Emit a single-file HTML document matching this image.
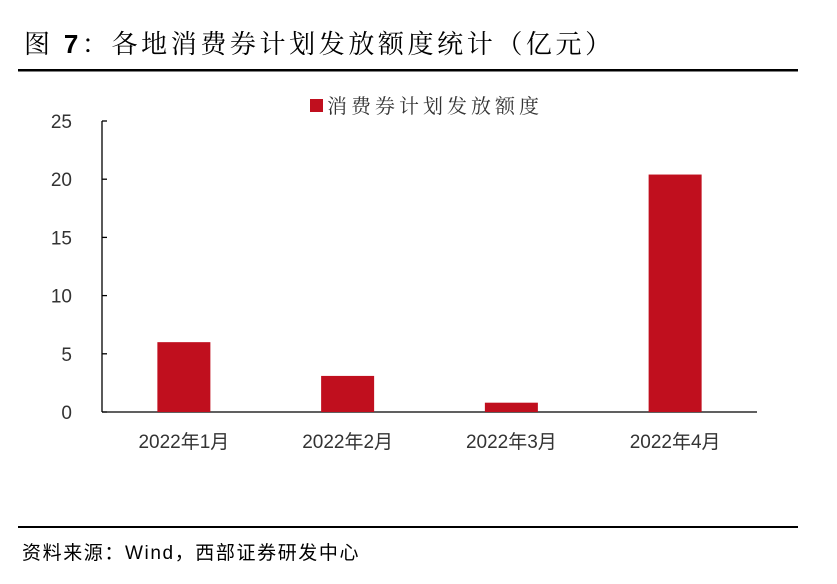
<!DOCTYPE html>
<html><head><meta charset="utf-8"><style>
body{margin:0;background:#fff;width:837px;height:579px;overflow:hidden;font-family:"Liberation Sans","Noto Sans CJK SC",sans-serif}
</style></head><body>
<svg width="837" height="579" xmlns="http://www.w3.org/2000/svg">
<text x="24" y="53" font-family="'Noto Serif CJK SC',serif" font-size="26" letter-spacing="3.6" fill="#000">图 <tspan font-family="'Liberation Sans',sans-serif" font-weight="bold">7</tspan>：各地消费券计划发放额度统计（亿元）</text>
<rect x="18" y="69" width="780" height="2.5" fill="#000"/>
<rect x="310" y="99" width="13" height="13" fill="#c00f1e"/>
<text x="327" y="113" font-family="'Noto Serif CJK SC',serif" font-size="20" fill="#333" letter-spacing="4">消费券计划发放额度</text>
<g id="plot"></g>
<rect x="18" y="526" width="780" height="2" fill="#000"/>
<text x="22" y="559" font-size="19" letter-spacing="1.6" fill="#000">资料来源：Wind，西部证券研发中心</text>
</svg>
<script>
const categories=["2022年1月","2022年2月","2022年3月","2022年4月"];
const values=[6.0,3.1,0.8,20.4];
const yTicks=[0,5,10,15,20,25];
const ns="http://www.w3.org/2000/svg";
const g=document.getElementById('plot');
const x0=102,x1=757,y0=412,yTop=121,yMax=25;
const y=v=>y0-(v/yMax)*(y0-yTop);
const bw=(x1-x0)/categories.length;
const xc=i=>x0+bw*(i+0.5);
function mk(t,a){const e=document.createElementNS(ns,t);for(const k in a)e.setAttribute(k,a[k]);g.appendChild(e);return e;}
let ax=mk('line',{x1:x0,y1:yTop,x2:x0,y2:y0,stroke:'#000','stroke-width':1.3});


let xa=mk('line',{x1:x0,y1:y0,x2:x1,y2:y0,stroke:'#000','stroke-width':1.3});


yTicks.forEach(v=>{
 let tk=mk('line',{x1:x0,y1:y(v),x2:x0+5,y2:y(v),stroke:'#000','stroke-width':1.3});
 
 
 let t=mk('text',{x:72,y:y(v)+7,'font-size':19,fill:'#333','text-anchor':'end'});
 t.textContent=v;
 
 
});
categories.forEach((c,i)=>{
 let r=mk('rect',{x:xc(i)-26.5,y:y(values[i]),width:53,height:y0-y(values[i]),fill:'#c00f1e'});
 
 
 let t=mk('text',{x:xc(i),y:448,'font-size':19,fill:'#333','text-anchor':'middle'});
 t.textContent=c;
 
 
});
</script>
</body></html>
